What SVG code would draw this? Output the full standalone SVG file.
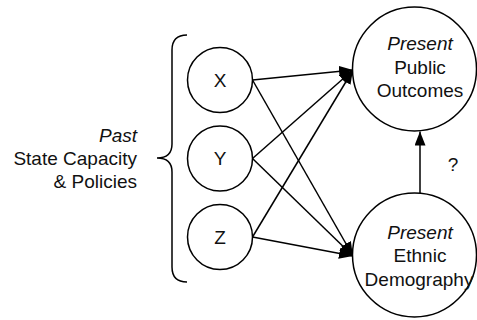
<svg xmlns="http://www.w3.org/2000/svg" width="477" height="320" viewBox="0 0 477 320">
<defs>
<marker id="ah" markerUnits="userSpaceOnUse" markerWidth="16" markerHeight="12" refX="14" refY="5.5" orient="auto">
<path d="M0,0 L14,5.5 L0,11 z" fill="#000"/>
</marker>
<style>
.n{fill:#fff;stroke:#000;stroke-width:1.5}
.t{font-family:"Liberation Sans",Arial,sans-serif;font-size:19px;fill:#111}
.c{text-anchor:middle}
.r{text-anchor:end}
.i{font-style:italic}
.e{fill:none;stroke:#000;stroke-width:1.5}
</style>
</defs>
<rect width="477" height="320" fill="#fff"/>
<g id="brace">
<path class="e" d="M187,35 Q172,35 172,50 L172,144 Q172,158 157,158 Q172,158 172,172 L172,267 Q172,282 187,282"/>
<text class="t r" x="137" y="142"><tspan class="i">Past</tspan></text>
<text class="t r" x="137" y="165">State Capacity</text>
<text class="t r" x="137" y="188">&amp; Policies</text>
</g>
<g id="connectors">
<line class="e" x1="252.5" y1="80" x2="353" y2="70" marker-end="url(#ah)"/>
<line class="e" x1="252.5" y1="158.5" x2="353" y2="70" marker-end="url(#ah)"/>
<line class="e" x1="252.5" y1="237" x2="353" y2="70" marker-end="url(#ah)"/>
<line class="e" x1="252.5" y1="80" x2="353" y2="256" marker-end="url(#ah)"/>
<line class="e" x1="252.5" y1="158.5" x2="353" y2="256" marker-end="url(#ah)"/>
<line class="e" x1="252.5" y1="237" x2="353" y2="256" marker-end="url(#ah)"/>
<line class="e" x1="420" y1="193" x2="420" y2="131.5" marker-end="url(#ah)"/>
<text class="t c" x="453" y="171">?</text>
</g>
<g id="X">
<circle class="n" cx="220" cy="80" r="32.5"/>
<text class="t c" x="220" y="86.5">X</text>
</g>
<g id="Y">
<circle class="n" cx="220" cy="158.5" r="32.5"/>
<text class="t c" x="220" y="165">Y</text>
</g>
<g id="Z">
<circle class="n" cx="220" cy="237" r="32.5"/>
<text class="t c" x="220" y="243.5">Z</text>
</g>
<g id="outcomes">
<circle class="n" cx="414.5" cy="69" r="62"/>
<text class="t c i" x="420" y="50">Present</text>
<text class="t c" x="420" y="73.5">Public</text>
<text class="t c" x="420" y="97">Outcomes</text>
</g>
<g id="demography">
<circle class="n" cx="414.5" cy="255" r="62"/>
<text class="t c i" x="420" y="238.5">Present</text>
<text class="t c" x="420" y="262">Ethnic</text>
<text class="t c" x="419" y="285.5">Demography</text>
</g>
</svg>
